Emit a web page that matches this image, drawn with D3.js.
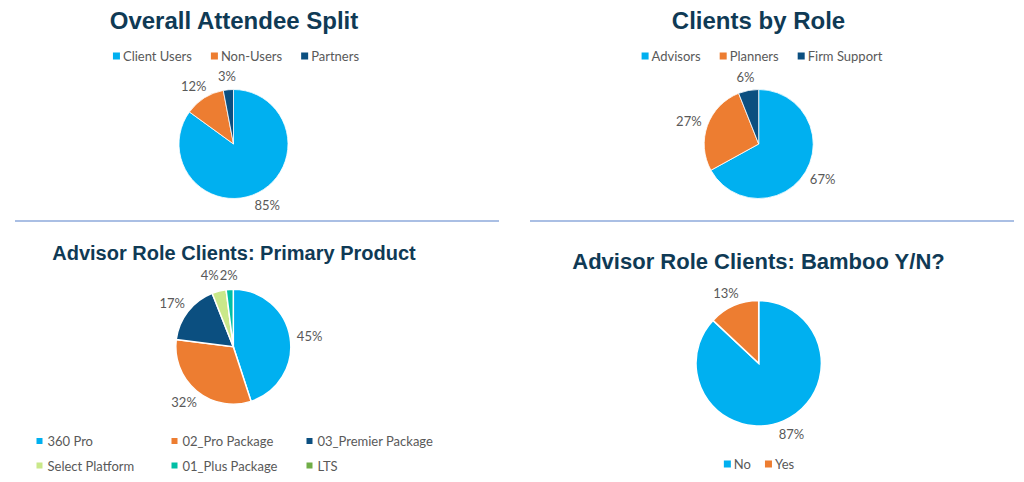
<!DOCTYPE html>
<html><head><meta charset="utf-8">
<script src="https://cdn.jsdelivr.net/npm/d3@7"></script>
<style>body{margin:0;background:#fff}svg{display:block}</style>
</head><body>
<svg id="c" width="1024" height="482"></svg>
<script>
// ---- data ----
const attendeeLabels = ["Client Users", "Non-Users", "Partners"];
const attendeeValues = [85, 12, 3];
const roleLabels = ["Advisors", "Planners", "Firm Support"];
const roleValues = [67, 27, 6];
const productLabels = ["360 Pro", "02_Pro Package", "03_Premier Package", "Select Platform", "01_Plus Package", "LTS"];
const productValues = [45, 32, 17, 4, 2, 0];
const bambooLabels = ["No", "Yes"];
const bambooValues = [87, 13];
const titles = ["Overall Attendee Split", "Clients by Role", "Advisor Role Clients: Primary Product", "Advisor Role Clients: Bamboo Y/N?"];
const palette = ["#00b0f0", "#ed7d31", "#0b4f80", "#c9e88a", "#00bfa5", "#70ad47"];

const svg = d3.select("#c");
const labelFont = "Lato, 'Open Sans', sans-serif";
const titleColor = "#0f3a55";
const textColor = "#595959";

// separators
svg.append("line").attr("x1", 15).attr("x2", 499).attr("y1", 221).attr("y2", 221)
  .attr("stroke", "#8eaadb").attr("stroke-width", 1.5);
svg.append("line").attr("x1", 530).attr("x2", 1014).attr("y1", 221).attr("y2", 221)
  .attr("stroke", "#8eaadb").attr("stroke-width", 1.5);

function drawPie(cfg) {
  const g = svg.append("g");
  g.append("text").attr("x", cfg.tx).attr("y", cfg.ty).attr("text-anchor", "middle")
    .attr("font-family", "'Liberation Sans', Arial, sans-serif").attr("font-weight", "bold")
    .attr("font-size", cfg.tsize).attr("fill", titleColor).text(cfg.title);

  const data = cfg.labels.map((l, i) => ({label: l, value: cfg.values[i], color: palette[i]}));
  const pie = d3.pie().sort(null).value(d => d.value);
  const arcs = pie(data);
  const arc = d3.arc().innerRadius(0).outerRadius(cfg.r);
  const pg = g.append("g").attr("transform", `translate(${cfg.cx},${cfg.cy})`);
  pg.selectAll("path").data(arcs.filter(a => a.data.value > 0)).join("path")
    .attr("d", arc).attr("fill", d => d.data.color)
    .attr("stroke", "#fff").attr("stroke-width", cfg.sw);

  const gap = 7;
  const placed = [];
  arcs.filter(a => a.data.value > 0).forEach(a => {
    const th = (a.startAngle + a.endAngle) / 2;
    const s = Math.sin(th), c = Math.cos(th);
    const t = pg.append("text").attr("font-family", labelFont).attr("font-size", 13)
      .attr("fill", textColor).attr("text-anchor", "middle").attr("dominant-baseline", "central")
      .text(a.data.value + "%");
    const w = t.node().getComputedTextLength();
    const hw = w / 2, hh = 7;
    const R = cfg.r + gap;
    placed.push({t, w, x: R * s + hw * s, y: -R * c - hh * c});
  });
  // resolve overlaps: push earlier label left (counter-clockwise side)
  for (let k = placed.length - 1; k > 0; k--) {
    const a = placed[k - 1], b = placed[k];
    const ox = (a.w + b.w) / 2 + 1 - Math.abs(b.x - a.x);
    const oy = 14 - Math.abs(b.y - a.y);
    if (ox > 0 && oy > 0) { a.x -= ox; a.y = b.y; }
  }
  placed.forEach(p => p.t.attr("x", p.x).attr("y", p.y));

  // legend
  const lg = g.append("g");
  if (cfg.legendCols) {
    data.forEach((d, i) => {
      const col = i % cfg.legendCols, row = Math.floor(i / cfg.legendCols);
      const x = cfg.lx + col * cfg.colW, y = cfg.ly + row * cfg.rowH;
      lg.append("rect").attr("x", x).attr("y", y - 3).attr("width", 6).attr("height", 6).attr("fill", d.color);
      lg.append("text").attr("x", x + 11).attr("y", y).attr("dominant-baseline", "central")
        .attr("font-family", labelFont).attr("font-size", 13).attr("fill", textColor).text(d.label);
    });
  } else {
    let x = 0;
    data.forEach(d => {
      const it = lg.append("g");
      it.append("rect").attr("x", 0).attr("y", -3.5).attr("width", 7).attr("height", 7).attr("fill", d.color);
      const t = it.append("text").attr("x", 10).attr("y", 0).attr("dominant-baseline", "central")
        .attr("font-family", labelFont).attr("font-size", 13).attr("fill", textColor).text(d.label);
      const w = 10 + t.node().getComputedTextLength();
      it.attr("transform", `translate(${x},0)`);
      x += w + cfg.itemGap;
    });
    const total = x - cfg.itemGap;
    lg.attr("transform", `translate(${cfg.lcx - total / 2},${cfg.ly})`);
  }
}

drawPie({title: titles[0], tx: 234, ty: 29, tsize: 24, labels: attendeeLabels, values: attendeeValues,
  cx: 233.5, cy: 144, r: 54.5, sw: 0.8, lcx: 236, ly: 56, itemGap: 19});
drawPie({title: titles[1], tx: 758.5, ty: 29, tsize: 24, labels: roleLabels, values: roleValues,
  cx: 758.7, cy: 144, r: 54.5, sw: 0.8, lcx: 762, ly: 56, itemGap: 19});
drawPie({title: titles[2], tx: 234, ty: 260, tsize: 20, labels: productLabels, values: productValues,
  cx: 233.3, cy: 346.7, r: 57.5, sw: 1.5, legendCols: 3, lx: 36.5, ly: 441, colW: 135, rowH: 24.5});
drawPie({title: titles[3], tx: 758.5, ty: 269, tsize: 22, labels: bambooLabels, values: bambooValues,
  cx: 758.7, cy: 363.3, r: 62.7, sw: 1.5, lcx: 759, ly: 464, itemGap: 14});
</script>
</body></html>
